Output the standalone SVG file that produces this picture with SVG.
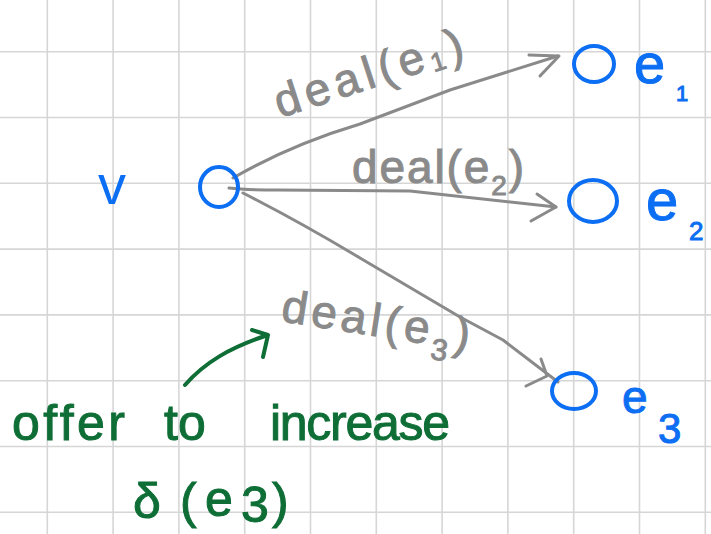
<svg xmlns="http://www.w3.org/2000/svg" width="711" height="534" viewBox="0 0 711 534">
<style>
.grid{stroke:#d6d6d6;stroke-width:1.6;fill:none}
.node{fill:none;stroke:#0b6ef3;stroke-width:4}
.lbl{fill:#0b6ef3;stroke:#0b6ef3;stroke-width:1;font-family:"Liberation Sans",Arial,sans-serif}
.edge{fill:none;stroke:#8a8a8a;stroke-width:3;stroke-linecap:round;stroke-linejoin:round}
.elbl{fill:#8a8a8a;stroke:#8a8a8a;stroke-width:1;font-family:"Liberation Sans",Arial,sans-serif;font-size:46px}
.note{fill:#0e6e36;stroke:#0e6e36;stroke-width:1;font-family:"Liberation Sans",Arial,sans-serif;font-size:50px}
.narrow{fill:none;stroke:#0e6e36;stroke-width:4;stroke-linecap:round;stroke-linejoin:round}
</style>
<rect width="711" height="534" fill="#ffffff"/>
<path class="grid" d="M47.3,0V534M113.1,0V534M178.9,0V534M244.7,0V534M310.5,0V534M376.3,0V534M442.1,0V534M507.9,0V534M573.7,0V534M639.5,0V534M705.3,0V534M0,51.7H711M0,117.5H711M0,183.3H711M0,249.1H711M0,314.9H711M0,380.7H711M0,446.5H711M0,512.3H711"/>

<g id="connectors">
  <path class="edge" d="M233,178 Q290,145 360,124 L450,90 L558,56"/>
  <polyline class="edge" points="529,55 559,56 540,76"/>
  <path class="edge" d="M229,188 Q245,190 277,190 L410,191 L556,207"/>
  <polyline class="edge" points="537,194 556,207 531,221"/>
  <path class="edge" d="M243,193 Q300,222 360,258 L460,317 L503,340 L558,382"/>
  <polyline class="edge" points="541,359 547,376 526,386"/>
  <text class="elbl" x="280" y="118" transform="rotate(-18 280 118)" textLength="196" lengthAdjust="spacing">deal(e<tspan font-size="26" dy="4">1</tspan><tspan dy="-4">)</tspan></text>
  <text class="elbl" x="352" y="183" textLength="172" lengthAdjust="spacing">deal(e<tspan font-size="28" dy="12">2</tspan><tspan dy="-12">)</tspan></text>
  <text class="elbl" x="280" y="321" transform="rotate(9 280 321)" textLength="190" lengthAdjust="spacing">deal(e<tspan font-size="30" dy="14">3</tspan><tspan dy="-14">)</tspan></text>
</g>

<g id="node-v">
  <ellipse class="node" cx="219" cy="187" rx="19" ry="20"/>
  <text x="98" y="204" font-size="56" fill="#0b6ef3" font-family="Liberation Sans, Arial, sans-serif">v</text>
</g>
<g id="node-e1">
  <ellipse class="node" cx="594" cy="64" rx="20" ry="18"/>
  <text class="lbl" x="634" y="83" font-size="56">e</text>
  <text class="lbl" x="676" y="101" font-size="22">1</text>
</g>
<g id="node-e2">
  <ellipse class="node" cx="593" cy="201" rx="24" ry="21"/>
  <text class="lbl" x="646" y="220" font-size="58">e</text>
  <text class="lbl" x="689" y="240" font-size="26">2</text>
</g>
<g id="node-e3">
  <ellipse class="node" cx="574" cy="391" rx="22" ry="18"/>
  <text class="lbl" x="622" y="413" font-size="46">e</text>
  <text class="lbl" x="658" y="443" font-size="42">3</text>
</g>

<g id="note">
  <path class="narrow" d="M185,385 C205,362 230,348 265,336"/>
  <polyline class="narrow" points="252,330 268,335 263,357"/>
  <text class="note" x="12" y="440" textLength="113" lengthAdjust="spacing">offer</text>
  <text class="note" x="164" y="440">to</text>
  <text class="note" x="270" y="440" textLength="180" lengthAdjust="spacing">increase</text>
  <text class="note" x="133" y="518" font-size="52">δ</text>
  <text class="note" x="180" y="518" font-size="56">(</text>
  <text class="note" x="205" y="516" font-size="50">e</text>
  <text class="note" x="241" y="522" font-size="30">3</text>
  <text class="note" x="272" y="518" font-size="56">)</text>
</g>
</svg>
